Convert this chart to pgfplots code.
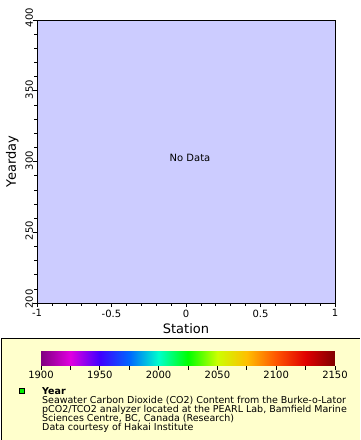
\documentclass[border=0pt]{standalone}
\usepackage{pgfplots}
\pgfplotsset{compat=1.18}
\usepackage{fontspec}
\setmainfont{DejaVu Sans}
\definecolor{plotbg}{RGB}{204,204,255}
\definecolor{legbg}{RGB}{255,255,204}
\definecolor{mkgreen}{RGB}{0,240,0}
\begin{document}
\begin{tikzpicture}
\path[use as bounding box] (0,0) rectangle (360pt,440pt);
% legend panel
\fill[legbg] (1pt,0) rectangle (360pt,101pt);
\draw[black,line width=1pt] (1pt,0) -- (1pt,101pt) -- (360pt,101pt);
\begin{axis}[
  at={(37pt,137pt)}, anchor=south west,
  scale only axis, width=298pt, height=283pt,
  xmin=-1, xmax=1, ymin=200, ymax=400,
  xtick={-1,-0.5,0,0.5,1}, minor x tick num=4,
  ytick={200,250,300,350,400}, minor y tick num=4,
  xtick pos=bottom, ytick pos=left,
  tick align=outside,
  major tick length=4pt, minor tick length=2.5pt,
  tick style={black, line width=0.6pt},
  axis line style={black, line width=0.8pt},
  axis background/.style={fill=plotbg},
  /pgf/number format/assume math mode=true,
  xticklabel style={font=\fontsize{10}{12}\selectfont, inner sep=2.5pt},
  yticklabel style={font=\fontsize{10}{12}\selectfont, rotate=90, anchor=base, inner sep=0pt},
  xticklabels={-1,-0.5,0,0.5,1},
  yticklabels={\hspace*{8pt}200,\hspace*{3pt}250,\hspace*{2pt}300,\hspace*{2pt}350,\hspace*{5pt}400},
  xlabel={Station}, ylabel={Yearday},
  label style={font=\fontsize{13}{15}\selectfont},
  xlabel style={at={(axis description cs:0.5,-0.1095)}, anchor=base},
  ylabel style={at={(axis description cs:-0.0705,0.5)}, anchor=base},
  colormap={erddap}{rgb255=(128,0,128) rgb255=(224,0,224) rgb255=(64,0,255) rgb255=(0,102,255) rgb255=(0,255,204) rgb255=(0,255,0) rgb255=(204,255,0) rgb255=(255,191,0) rgb255=(255,85,0) rgb255=(224,0,0) rgb255=(128,0,0)},
  point meta min=1900, point meta max=2150,
  colorbar horizontal,
  colorbar style={
    at={(parent axis.south west)}, anchor=north west,
    xshift=4pt, yshift=-39pt,
    scale only axis, width=294pt, height=15pt,
    xtick={1900,1950,2000,2050,2100,2150},
    minor xtick={1925,1975,2025,2075,2125},
    xtick pos=bottom, tick align=outside,
    major tick length=4pt, minor tick length=4pt,
    tick style={black, line width=0.6pt},
    axis line style={draw=none},
    /pgf/number format/assume math mode=true,
    /pgf/number format/1000 sep={},
    xticklabel style={font=\fontsize{10}{12}\selectfont, inner sep=1pt},
  },
]
\node[anchor=base, font=\fontsize{10}{12}\selectfont] at (axis cs:0.027,300) {No Data};
\end{axis}
\draw[black, line width=0.6pt, fill=mkgreen] (19.3pt,46.2pt) rectangle (24.3pt,51.2pt);
\begin{scope}[every node/.style={anchor=base west, inner sep=0pt, font=\fontsize{9.5}{11}\selectfont}]
\node at (42pt,45.5pt) {\bfseries Year};
\node at (42pt,36.6pt) {Seawater Carbon Dioxide (CO2) Content from the Burke-o-Lator};
\node at (42pt,27.7pt) {pCO2/TCO2 analyzer located at the PEARL Lab, Bamfield Marine};
\node at (42pt,18.8pt) {Sciences Centre, BC, Canada (Research)};
\node at (42pt,9.9pt) {Data courtesy of Hakai Institute};
\end{scope}
\end{tikzpicture}
\end{document}
